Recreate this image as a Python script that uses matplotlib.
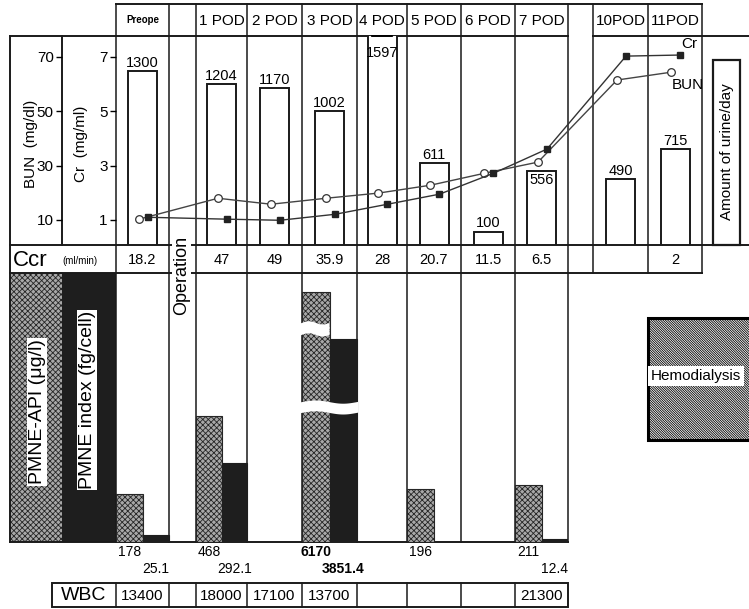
import numpy as np
import matplotlib.pyplot as plt
from matplotlib.patches import Rectangle
import matplotlib.transforms as mtransforms

plt.rcParams['font.family'] = ['Liberation Sans', 'DejaVu Sans']
plt.rcParams['hatch.linewidth'] = 0.6

# %%
# values
columns = ['Preope', '', '1 POD', '2 POD', '3 POD', '4 POD', '5 POD', '6 POD',
           '7 POD', '', '10POD', '11POD']
urine = [1300, None, 1204, 1170, 1002, 1597, 611, 100, 556, None, 490, 715]
bun = [10.3, None, 18.0, 15.8, 18.0, 19.9, 22.8, 27.2, 31.3, None, 61.5, 64.4]
cr = [1.10, None, 1.03, 0.99, 1.21, 1.58, 1.95, 2.72, 3.61, None, 7.03, 7.07]
ccr = ['18.2', '', '47', '49', '35.9', '28', '20.7', '11.5', '6.5', '', '', '2']
pmne_api = [178, None, 468, None, 6170, None, 196, None, 211, None, None, None]
pmne_index = [25.1, None, 292.1, None, 3851.4, None, None, None, 12.4, None, None, None]
wbc = ['13400', '', '18000', '17100', '13700', '', '', '', '21300']
bun_ticks = [10, 30, 50, 70]
cr_ticks = [1, 3, 5, 7]

# %%
# page layout in pixels
W, H = 749, 609
EDGES = [116, 169, 196, 247, 302, 357, 407, 461, 515, 568, 593, 648, 702]
centers = [(a + b) / 2 for a, b in zip(EDGES[:-1], EDGES[1:])]
widths = [b - a for a, b in zip(EDGES[:-1], EDGES[1:])]
LC = '#1a1a1a'
DOT_FC, DOT_EC, DOT_HATCH = '#a8a8a8', '#262626', 'xxxxxx'

fig = plt.figure(figsize=(W / 100, H / 100), dpi=100)
bg = fig.add_axes([0, 0, 1, 1])
bg.set_xlim(0, W)
bg.set_ylim(H, 0)
bg.axis('off')


def px_axes(x0, y0, x1, y1):
    a = fig.add_axes([x0 / W, 1 - y1 / H, (x1 - x0) / W, (y1 - y0) / H])
    a.set_facecolor('none')
    for s in a.spines.values():
        s.set_visible(False)
    return a


def hline(y, x0, x1, lw=1.1):
    bg.plot([x0, x1], [y, y], color=LC, lw=lw, solid_capstyle='projecting')


def vline(x, y0, y1, lw=1.1):
    bg.plot([x, x], [y0, y1], color=LC, lw=lw, solid_capstyle='projecting')


# table frame
hline(4, 116, 702, 1.4)
hline(36, 10, 568, 1.4)
hline(36, 593, 749, 1.4)
hline(245, 10, 749, 1.4)
hline(273, 10, 702, 1.4)
hline(542, 10, 568, 1.4)
vline(10, 36, 542, 1.4)
vline(62, 36, 245, 1.4)
for x in EDGES[:10]:
    vline(x, 4, 542)
for x in EDGES[10:]:
    vline(x, 4, 273)

# header and Ccr row
for c, lab, val in zip(centers, columns, ccr):
    if lab == 'Preope':
        bg.text(c, 20, lab, ha='center', va='center', fontsize=7, fontweight='bold')
    elif lab:
        bg.text(c, 21, lab, ha='center', va='center', fontsize=11)
    if val:
        bg.text(c, 260, val, ha='center', va='center', fontsize=10.5)
bg.text(13, 260, 'Ccr', ha='left', va='center', fontsize=16)
bg.text(80, 261, '(ml/min)', ha='center', va='center', fontsize=7)
bg.text(centers[1] - 1, 275, 'Operation', rotation=90, ha='center', va='center',
        fontsize=13, bbox=dict(fc='white', ec='none', pad=1))

# axis titles in the left box
bg.text(31, 144, 'BUN  (mg/dl)', rotation=90, ha='center', va='center', fontsize=11)
bg.text(81, 144, 'Cr  (mg/ml)', rotation=90, ha='center', va='center', fontsize=11)

# urine box on the right
bg.add_patch(Rectangle((713, 60), 27, 185, fc='white', ec=LC, lw=1.6))
bg.text(727, 152, 'Amount of urine/day', rotation=90, ha='center', va='center', fontsize=11)

# PMNE legend column
bg.add_patch(Rectangle((10, 273), 52, 269, fc=DOT_FC, ec=DOT_EC, hatch=DOT_HATCH, lw=0))
bg.add_patch(Rectangle((62, 273), 54, 269, fc='#1e1e1e', ec='none'))
bg.text(37, 412, 'PMNE-API (μg/l)', rotation=90, ha='center', va='center',
        fontsize=14, bbox=dict(fc='white', ec='none', pad=1))
bg.text(87, 400, 'PMNE index (fg/cell)', rotation=90, ha='center', va='center',
        fontsize=14, bbox=dict(fc='white', ec='none', pad=1))

# hemodialysis marker
bg.add_patch(Rectangle((648, 318), 110, 122, fc='white', ec='black',
                       hatch='\\' * 14, lw=2.2))
bg.text(651, 376, 'Hemodialysis', ha='left', va='center', fontsize=11,
        bbox=dict(fc='white', ec='none', pad=2))

# WBC row
wbc_edges = [52] + EDGES[:10]
bg.add_patch(Rectangle((52, 583), 516, 24, fc='none', ec=LC, lw=1.4))
for x in wbc_edges[1:-1]:
    vline(x, 583, 607)
bg.text(84, 595, 'WBC', ha='center', va='center', fontsize=14)
for c, val in zip(centers, wbc):
    bg.text(c, 596, val, ha='center', va='center', fontsize=11)

# %%
# top panel: urine bars, BUN and Cr lines
top = px_axes(116, 36, 702, 245)
top.set_xlim(116, 702)
top.set_ylim(0, 1562)
top.set_xticks([])
top.set_yticks([])
uy = top.get_ylim()[1]
for c, lab, v in zip(centers, columns, urine):
    if v is None:
        continue
    top.bar(c, v, width=29, fc='white', ec=LC, lw=1.4)
    if v > uy:
        top.annotate(str(v), (c, uy), xytext=(0, -7), textcoords='offset points',
                     ha='center', va='top', fontsize=10.5)
        top.annotate('', (c - 13, uy), xytext=(c + 13, uy), arrowprops=dict(arrowstyle='-', lw=1.4),
                     textcoords='data')
    elif lab == '7 POD':
        top.annotate(str(v), (c, v), xytext=(0, -2), textcoords='offset points',
                     ha='center', va='top', fontsize=10.5)
    else:
        top.annotate(str(v), (c, v), xytext=(0, 1), textcoords='offset points',
                     ha='center', va='bottom', fontsize=10.5)

bun_lim = (0.8, 77.7)
top_bun = top.twinx()
top_bun.set_ylim(*bun_lim)
top_bun.set_yticks([])
for s in top_bun.spines.values():
    s.set_visible(False)
bx = [c - 3.5 for c, v in zip(centers, bun) if v is not None]
by = [v for v in bun if v is not None]
top_bun.plot(bx, by, color='#444444', lw=1.0, marker='o', ms=5.5,
             mfc='white', mec='#333333', mew=0.9)
top_bun.annotate('BUN', (bx[-1], by[-1]), xytext=(12, -9), textcoords='offset points',
                 ha='center', va='center', fontsize=11)

top_cr = top.twinx()
top_cr.set_ylim(bun_lim[0] / 10, bun_lim[1] / 10)
top_cr.yaxis.tick_left()
top_cr.set_yticks(cr_ticks)
top_cr.tick_params(axis='y', direction='out', length=4, width=1, labelsize=11, pad=2)
for s in top_cr.spines.values():
    s.set_visible(False)
cx = [c + 5.5 for c, v in zip(centers, cr) if v is not None]
cy = [v for v in cr if v is not None]
top_cr.plot(cx, cy, color='#333333', lw=1.0, marker='s', ms=4.5, mfc='#222222', mec='#222222')
top_cr.annotate('Cr', (cx[-1], cy[-1]), xytext=(6, 8), textcoords='offset points',
                ha='center', va='center', fontsize=11)

bun_ax = px_axes(62, 36, 116, 245)
bun_ax.set_ylim(*bun_lim)
bun_ax.set_xticks([])
bun_ax.set_yticks(bun_ticks)
bun_ax.tick_params(axis='y', direction='out', length=4, width=1, labelsize=11, pad=2)

# %%
# bottom panel: PMNE bars with a broken axis
BRK, K = 500, 0.075


def fwd(v):
    v = np.asarray(v, dtype=float)
    return np.where(v <= BRK, v, BRK + (v - BRK) * K)


def inv(d):
    d = np.asarray(d, dtype=float)
    return np.where(d <= BRK, d, BRK + (d - BRK) / K)


low = px_axes(116, 273, 568, 542)
low.set_xlim(116, 568)
low.set_yscale('function', functions=(fwd, inv))
low.set_ylim(0, 7113)
low.set_xticks([])
low.set_yticks([])
yfrac = lambda v: float(fwd(v) / fwd(low.get_ylim()[1]))
blend = mtransforms.blended_transform_factory(low.transData, low.transAxes)

for x0, w, a, b in zip(EDGES, widths, pmne_api, pmne_index):
    half = w / 2
    big = (a is not None and a > BRK)
    fw = 'bold' if big else 'normal'
    if a is not None:
        low.bar(x0, a, width=half, align='edge', fc=DOT_FC, ec=DOT_EC, hatch=DOT_HATCH, lw=0.8)
        low.annotate(str(a), (x0 + half / 2, 0), xytext=(0, -7.5), textcoords='offset points',
                     ha='center', va='center', fontsize=10, fontweight=fw,
                     annotation_clip=False)
    if b is not None:
        low.bar(x0 + half, b, width=half, align='edge', fc='#1e1e1e', ec='#1e1e1e', lw=0.8)
        low.annotate(str(b), (x0 + 1.5 * half, 0), xytext=(0, -19.5), textcoords='offset points',
                     ha='center', va='center', fontsize=10, fontweight=fw,
                     annotation_clip=False)
    if big:
        # break marks across the shortened bars
        xs = np.linspace(x0 - 2, x0 + w + 1, 60)
        wave = 0.006 * np.sin((xs - x0) / w * 2 * np.pi)
        lo, hi = yfrac(478), yfrac(740)
        low.fill_between(xs, lo + wave, hi + wave, transform=blend, fc='white', ec='none', zorder=5)
        xs2 = np.linspace(x0 - 2, x0 + half, 40)
        wave2 = 0.006 * np.sin((xs2 - x0) / half * 2 * np.pi)
        lo2, hi2 = yfrac(4060), yfrac(4650)
        low.fill_between(xs2, lo2 + wave2, hi2 + wave2, transform=blend, fc='white', ec='none', zorder=5)

plt.savefig('out.png', dpi=100)
